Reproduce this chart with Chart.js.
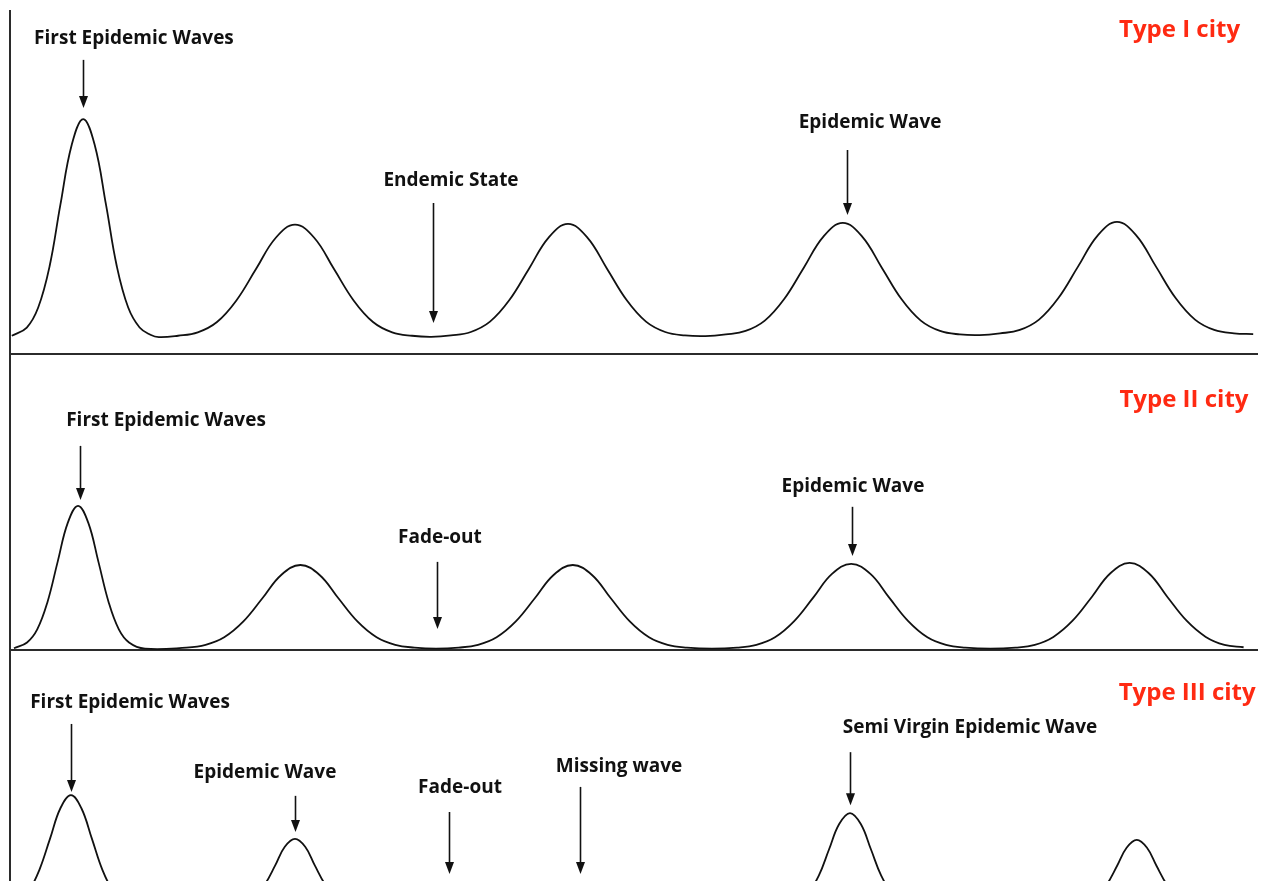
<!DOCTYPE html>
<html>
<head>
<meta charset="utf-8">
<script src="https://cdn.jsdelivr.net/npm/chart.js@4.4.1/dist/chart.umd.min.js"></script>
<style>
  html, body { margin: 0; padding: 0; background: #fff; overflow: hidden; width: 1269px; height: 881px; }
  canvas { position: absolute; left: 0; }
</style>
</head>
<body>
<canvas id="c1" width="1269" height="362" style="top:0px"></canvas>
<canvas id="c2" width="1269" height="316" style="top:344px"></canvas>
<canvas id="c3" width="1269" height="290" style="top:640px"></canvas>
<script>
// time axis in weeks, incidence in arbitrary units

// Type I city: first wave, then regular epidemic waves over an endemic floor
const weeks1 = [
  0.15, 1.4, 2.35, 3.3, 4.2, 5.15, 6.1, 7.05, 8.0, 8.9, 9.85, 10.8, 11.7, 12.4,
  14.0, 15.65, 17.25, 18.85, 20.5, 22.15, 23.75, 25.35, 27.0, 28.65, 30.25, 31.85, 33.5,
  35.1,
  36.75, 38.4, 40.0, 41.6, 43.25, 44.9, 46.5, 48.1, 49.75, 51.4, 53.0, 54.6, 56.25,
  57.95,
  59.65, 61.3, 62.9, 64.5, 66.15, 67.8, 69.4, 71.0, 72.65, 74.3, 75.9, 77.5, 79.15,
  80.8,
  82.5, 84.15, 85.75, 87.35, 89.0, 90.65, 92.25, 93.85, 95.5, 97.15, 98.75, 100.35, 102.0,
  103.6
];
const cases1 = [
  5.3, 7.7, 13.5, 25.5, 43.4, 60.9, 68.3, 60.9, 43.4, 25.5, 13.5, 7.7, 5.6, 4.9,
  5.3, 6.3, 9.3, 15.5, 24.7, 33.8, 37.6, 33.8, 24.7, 15.5, 9.3, 6.3, 5.3,
  5.0,
  5.4, 6.4, 9.4, 15.6, 24.8, 33.9, 37.8, 33.9, 24.8, 15.6, 9.4, 6.4, 5.4,
  5.2,
  5.7, 6.7, 9.7, 15.9, 25.1, 34.2, 38.1, 34.2, 25.1, 15.9, 9.7, 6.7, 5.7,
  5.5,
  6.0, 7.0, 10.0, 16.2, 25.4, 34.5, 38.4, 34.5, 25.4, 16.2, 10.0, 7.0, 6.0,
  5.8
];

// Type II city: waves separated by fade-outs
const weeks2 = [
  0.33, 1.42, 2.27, 3.12, 3.97, 4.82, 5.67, 6.52, 7.37, 8.22, 9.07, 9.92, 11.25,
  14.7, 16.3, 17.85, 19.45, 21.05, 22.6, 24.2, 25.8, 27.35, 28.95, 30.55, 32.1, 33.7,
  35.5,
  37.4, 39.0, 40.55, 42.15, 43.75, 45.3, 46.9, 48.5, 50.05, 51.65, 53.25, 54.8, 56.4,
  58.5,
  60.6, 62.2, 63.75, 65.35, 66.95, 68.5, 70.1, 71.7, 73.25, 74.85, 76.45, 78.0, 79.6,
  81.7,
  83.8, 85.4, 86.95, 88.55, 90.15, 91.7, 93.3, 94.9, 96.45, 98.05, 99.65, 101.2, 102.8
];
const cases2 = [
  0.5, 2.2, 6.0, 13.9, 25.6, 37.0, 41.9, 37.0, 25.6, 13.9, 6.0, 2.2, 0.4,
  0.7, 1.5, 3.7, 8.3, 15.1, 21.8, 24.7, 21.8, 15.1, 8.3, 3.7, 1.5, 0.7,
  0.4,
  0.7, 1.5, 3.7, 8.3, 15.1, 21.8, 24.7, 21.8, 15.1, 8.3, 3.7, 1.5, 0.7,
  0.4,
  0.7, 1.5, 3.7, 8.4, 15.3, 22.1, 25.0, 22.1, 15.3, 8.4, 3.7, 1.5, 0.7,
  0.4,
  0.7, 1.5, 3.8, 8.5, 15.4, 22.3, 25.3, 22.3, 15.4, 8.5, 3.8, 1.5, 0.8
];

// Type III city: short sharp waves, a missing wave and a semi virgin wave
const weeks3 = [
  0.7, 1.58, 2.45, 3.33, 4.2, 5.08, 5.95, 6.83, 7.7, 8.58, 9.45, 10.33,
  14.0,
  18.75, 19.6, 20.4, 21.25, 22.1, 22.9, 23.75, 24.6, 25.4, 26.25, 27.1, 27.9, 28.75,
  40.0, 55.0,
  64.75, 65.6, 66.5, 67.4, 68.25, 69.1, 70.0, 70.9, 71.75, 72.6, 73.5, 74.4, 75.25,
  88.9, 89.75, 90.55, 91.4, 92.25, 93.05, 93.9, 94.75, 95.55, 96.4, 97.25, 98.05, 98.9,
  103.0
];
const cases3 = [
  2.0, 5.0, 11.1, 20.1, 29.0, 32.8, 29.0, 20.1, 11.1, 5.0, 2.0, 1.0,
  0.6,
  0.8, 1.5, 3.2, 6.9, 12.4, 17.8, 20.1, 17.8, 12.4, 6.9, 3.2, 1.5, 0.8,
  0.6, 0.6,
  0.9, 1.8, 4.3, 9.4, 17.0, 24.4, 27.6, 24.4, 17.0, 9.4, 4.3, 1.8, 0.9,
  0.8, 1.5, 3.1, 6.8, 12.2, 17.5, 19.8, 17.5, 12.2, 6.8, 3.1, 1.5, 0.8,
  0.6
];

const panelTitles = ["Type I city", "Type II city", "Type III city"];

// callouts: label at (x, y), arrow at x = ax from y = top down to y = tip (data units)
const notes1 = [
  { text: "First Epidemic Waves", x: 10.33, y: 91.6, ax: 6.08, top: 85.5, tip: 71.5 },
  { text: "Endemic State", x: 36.75, y: 50.3, ax: 35.25, top: 43.9, tip: 9.0 },
  { text: "Epidemic Wave", x: 71.67, y: 67.4, ax: 69.75, top: 59.3, tip: 40.4 }
];
const notes2 = [
  { text: "First Epidemic Waves", x: 13.0, y: 66.6, ax: 5.83, top: 59.3, tip: 43.6 },
  { text: "Fade-out", x: 35.83, y: 32.8, ax: 35.58, top: 25.6, tip: 6.1 },
  { text: "Epidemic Wave", x: 70.25, y: 47.4, ax: 70.17, top: 41.6, tip: 27.3 }
];
const notes3 = [
  { text: "First Epidemic Waves", x: 10.0, y: 59.6, ax: 5.08, top: 53.5, tip: 33.7 },
  { text: "Epidemic Wave", x: 21.25, y: 39.5, ax: 23.75, top: 32.6, tip: 22.1 },
  { text: "Fade-out", x: 37.5, y: 34.9, ax: 36.58, top: 27.9, tip: 9.9 },
  { text: "Missing wave", x: 50.75, y: 41.0, ax: 47.5, top: 35.2, tip: 9.9 },
  { text: "Semi Virgin Epidemic Wave", x: 80.0, y: 52.3, ax: 70.0, top: 45.3, tip: 29.9 }
];
const titlePos = [
  { x: 97.46, y: 94.2 },
  { x: 97.83, y: 72.7 },
  { x: 98.1, y: 62.5 }
];

const calloutPlugin = {
  id: "callouts",
  beforeDatasetsDraw(chart) {
    // axis lines along the left and bottom of the plot
    const { ctx, chartArea, scales } = chart;
    const x0 = scales.x.getPixelForValue(0);
    const y0 = scales.y.getPixelForValue(0);
    ctx.save();
    ctx.strokeStyle = "#2b2b2b";
    ctx.lineWidth = 2;
    ctx.beginPath();
    ctx.moveTo(x0, chartArea.top);
    ctx.lineTo(x0, y0);
    ctx.lineTo(chartArea.right, y0);
    ctx.stroke();
    ctx.restore();
  },
  afterDatasetsDraw(chart, args, opts) {
    const { ctx, scales } = chart;
    const sx = (v) => scales.x.getPixelForValue(v);
    const sy = (v) => scales.y.getPixelForValue(v);
    ctx.save();
    ctx.textAlign = "center";
    ctx.textBaseline = "middle";
    ctx.font = "700 19px 'Open Sans'";
    ctx.fillStyle = "#111";
    opts.notes.forEach((n) => {
      ctx.fillText(n.text, sx(n.x), sy(n.y));
      const ax = Math.round(sx(n.ax)) + 0.5;
      const yTop = sy(n.top);
      const yTip = sy(n.tip);
      ctx.strokeStyle = "#111";
      ctx.lineWidth = 1.6;
      ctx.beginPath();
      ctx.moveTo(ax, yTop);
      ctx.lineTo(ax, yTip - 10);
      ctx.stroke();
      ctx.beginPath();
      ctx.moveTo(ax - 4.5, yTip - 12);
      ctx.lineTo(ax + 4.5, yTip - 12);
      ctx.lineTo(ax, yTip);
      ctx.closePath();
      ctx.fill();
    });
    ctx.font = "700 24px 'Open Sans'";
    ctx.fillStyle = "#ff2a12";
    ctx.fillText(opts.title, sx(opts.titleAt.x), sy(opts.titleAt.y));
    ctx.restore();
  }
};

function makePanel(id, weeks, cases, yMax, pad, notes, title, titleAt) {
  const points = weeks.map((w, i) => ({ x: w, y: cases[i] }));
  return new Chart(document.getElementById(id), {
    type: "line",
    data: {
      datasets: [
        {
          data: points,
          borderColor: "#111",
          borderWidth: 1.8,
          fill: false,
          pointRadius: 0,
          tension: 0.4
        }
      ]
    },
    options: {
      responsive: false,
      animation: false,
      events: [],
      layout: { padding: pad },
      scales: {
        x: { type: "linear", min: 0, max: 104, display: false },
        y: { min: 0, max: yMax, display: false }
      },
      plugins: {
        legend: { display: false },
        tooltip: { enabled: false },
        callouts: { notes, title, titleAt }
      }
    },
    plugins: [calloutPlugin]
  });
}

makePanel("c1", weeks1, cases1, 100, { top: 10, bottom: 8, left: 10, right: 11 }, notes1, panelTitles[0], titlePos[0]);
makePanel("c2", weeks2, cases2, 86, { top: 10, bottom: 10, left: 10, right: 11 }, notes2, panelTitles[1], titlePos[1]);
makePanel("c3", weeks3, cases3, 75, { top: 10, bottom: 22, left: 10, right: 11 }, notes3, panelTitles[2], titlePos[2]);
</script>
</body>
</html>
